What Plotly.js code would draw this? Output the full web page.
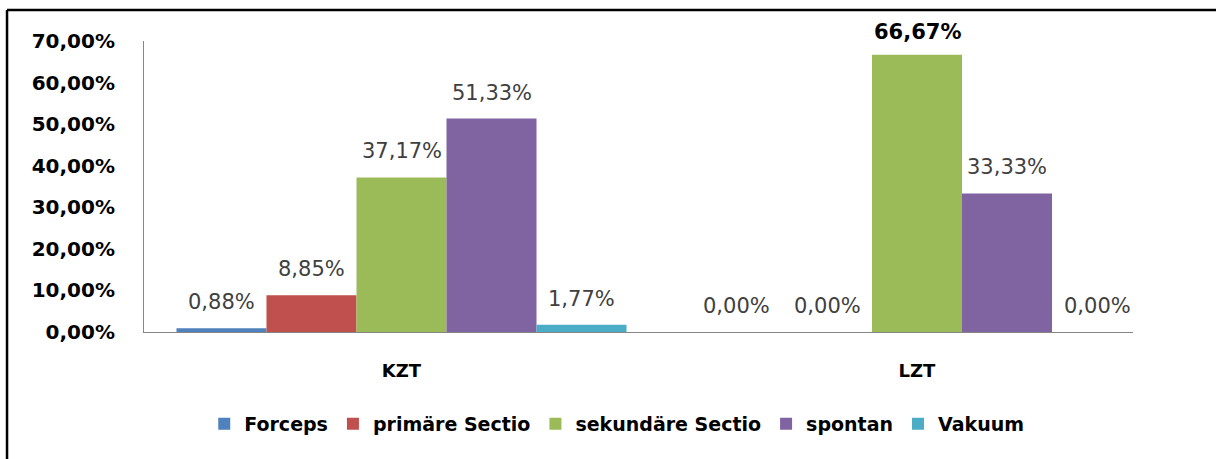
<!DOCTYPE html>
<html><head><meta charset="utf-8">
<script src="https://cdn.plot.ly/plotly-3.0.1.min.js"></script>
<style>html,body{margin:0;padding:0;background:#fff;} #chart{width:1216px;height:459px;}</style>
</head><body><div id="chart"></div>
<script>
// ---- data ----
const categories = ['KZT', 'LZT'];
const forceps = [0.88, 0.00];
const primaereSectio = [8.85, 0.00];
const sekundaereSectio = [37.17, 66.67];
const spontan = [51.33, 33.33];
const vakuum = [1.77, 0.00];
const seriesNames = ['Forceps', 'primäre Sectio', 'sekundäre Sectio', 'spontan', 'Vakuum'];
const yTickValues = [0, 10, 20, 30, 40, 50, 60, 70];
const yTickLabels = ['0,00%', '10,00%', '20,00%', '30,00%', '40,00%', '50,00%', '60,00%', '70,00%'];

// ---- styles ----
const seriesColors = ['#4F81BD', '#C0504D', '#9BBB59', '#8064A2', '#4BACC6'];
const allSeries = [forceps, primaereSectio, sekundaereSectio, spontan, vakuum];
const BARGAP = 0.127;
const fmt = v => v.toFixed(2).replace('.', ',') + '%';

const traces = allSeries.map((vals, j) => ({
  type: 'bar',
  name: seriesNames[j],
  x: categories,
  y: vals,
  marker: { color: seriesColors[j], line: { width: 0 } },
  hoverinfo: 'skip'
}));

const maxVal = Math.max(...allSeries.flat());
const nSeries = allSeries.length;
const w = (1 - BARGAP) / nSeries;
const annotations = [];
allSeries.forEach((vals, j) => {
  vals.forEach((v, i) => {
    const isMax = v === maxVal;
    annotations.push({
      xref: 'x', yref: 'y',
      x: i + (j - (nSeries - 1) / 2) * w,
      y: v,
      yanchor: 'middle', xanchor: 'center',
      yshift: isMax ? 23 : 26,
      showarrow: false,
      text: isMax ? '<b>' + fmt(v) + '</b>' : fmt(v),
      font: { family: 'DejaVu Sans', size: 21, color: isMax ? '#000000' : '#404040' }
    });
  });
});

const layout = {
  width: 1216, height: 459,
  margin: { l: 144, r: 83, t: 41, b: 127, pad: 0 },
  paper_bgcolor: '#ffffff', plot_bgcolor: '#ffffff',
  barmode: 'group', bargap: BARGAP, bargroupgap: 0,
  showlegend: true,
  legend: {
    orientation: 'h', x: 0.478, xanchor: 'center', y: -0.316, yanchor: 'middle',
    font: { family: 'DejaVu Sans', size: 19, color: '#000000', weight: 'bold' },
    traceorder: 'normal', itemclick: false
  },
  xaxis: {
    type: 'category',
    range: [-0.4995, 1.419],
    showline: true, linecolor: '#868686', linewidth: 1,
    ticks: '', showgrid: false, zeroline: false,
    ticklabelstandoff: 22,
    tickfont: { family: 'DejaVu Sans', size: 18, color: '#000000', weight: 'bold' }
  },
  yaxis: {
    range: [0, 70],
    tickvals: yTickValues, ticktext: yTickLabels,
    showline: true, linecolor: '#868686', linewidth: 1,
    ticks: '', showgrid: false, zeroline: false,
    ticklabelstandoff: 24,
    tickfont: { family: 'DejaVu Sans', size: 20, color: '#000000', weight: 'bold' }
  },
  annotations: annotations,
  shapes: [
    { type: 'line', xref: 'paper', yref: 'paper', x0: -0.1385, x1: 1.1, y0: 1.1067, y1: 1.1067,
      line: { color: '#000000', width: 2.5 } },
    { type: 'line', xref: 'paper', yref: 'paper', x0: -0.1385, x1: -0.1385, y0: 1.1067, y1: -0.5,
      line: { color: '#000000', width: 2.5 } }
  ]
};

Plotly.newPlot('chart', traces, layout, { displayModeBar: false, staticPlot: true });
</script>
</body></html>
